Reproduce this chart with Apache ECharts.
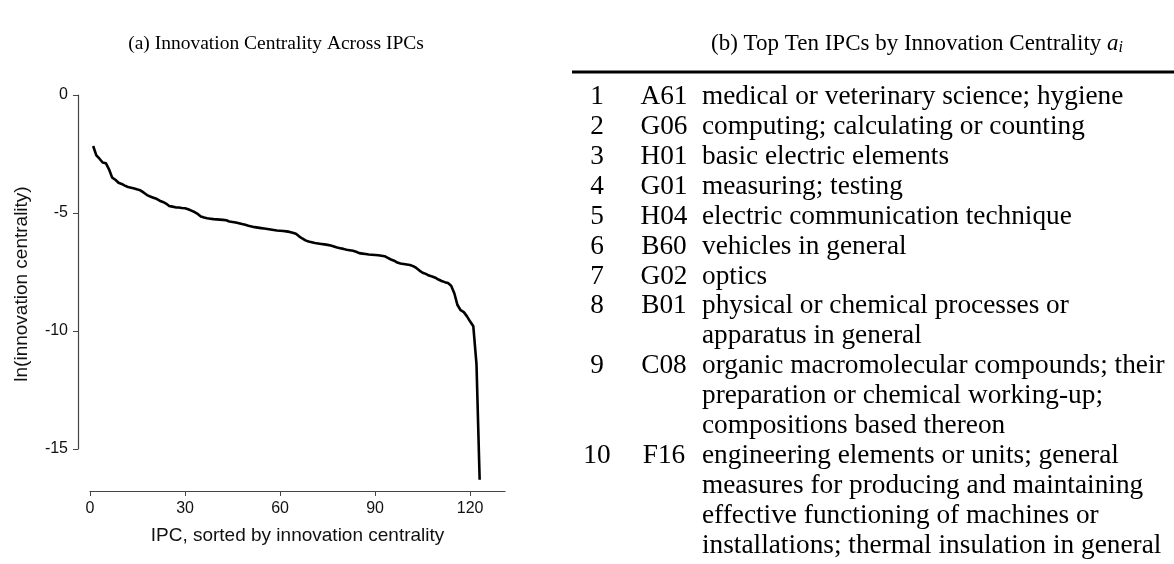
<!DOCTYPE html>
<html><head><meta charset="utf-8">
<script src="https://cdn.jsdelivr.net/npm/echarts@6/dist/echarts.min.js"></script>
<style>html,body{margin:0;padding:0;background:#fff}#c{width:1174px;height:564px}</style>
</head><body><div id="c"></div>
<script>
// ---- data ----
const ranks = ['1','2','3','4','5','6','7','8','9','10'];
const codes = ['A61','G06','H01','G01','H04','B60','G02','B01','C08','F16'];
const descriptions = [
  ['medical or veterinary science; hygiene'],
  ['computing; calculating or counting'],
  ['basic electric elements'],
  ['measuring; testing'],
  ['electric communication technique'],
  ['vehicles in general'],
  ['optics'],
  ['physical or chemical processes or', 'apparatus in general'],
  ['organic macromolecular compounds; their', 'preparation or chemical working-up;', 'compositions based thereon'],
  ['engineering elements or units; general', 'measures for producing and maintaining', 'effective functioning of machines or', 'installations; thermal insulation in general']
];
const xTicks = [0, 30, 60, 90, 120];
// ln(innovation centrality) of IPCs sorted by rank 1..123
const centrality = [
  -2.16,-2.56,-2.70,-2.86,-2.89,-3.15,-3.50,-3.59,-3.72,-3.77,
  -3.84,-3.90,-3.93,-3.96,-4.00,-4.05,-4.14,-4.24,-4.30,-4.35,
  -4.40,-4.48,-4.53,-4.60,-4.70,-4.73,-4.76,-4.77,-4.79,-4.80,
  -4.84,-4.90,-4.96,-5.04,-5.15,-5.19,-5.22,-5.24,-5.26,-5.27,
  -5.28,-5.29,-5.31,-5.36,-5.38,-5.40,-5.43,-5.47,-5.50,-5.54,
  -5.57,-5.60,-5.62,-5.64,-5.66,-5.68,-5.70,-5.72,-5.74,-5.75,
  -5.76,-5.78,-5.80,-5.84,-5.88,-5.99,-6.08,-6.16,-6.21,-6.24,
  -6.27,-6.29,-6.31,-6.33,-6.35,-6.38,-6.42,-6.46,-6.49,-6.52,
  -6.56,-6.58,-6.60,-6.64,-6.70,-6.72,-6.74,-6.76,-6.77,-6.78,
  -6.79,-6.81,-6.83,-6.90,-6.97,-7.02,-7.10,-7.14,-7.16,-7.18,
  -7.20,-7.25,-7.33,-7.44,-7.53,-7.58,-7.65,-7.69,-7.74,-7.82,
  -7.88,-7.93,-7.97,-8.08,-8.40,-8.90,-9.12,-9.20,-9.38,-9.60,
  -9.80,-11.40,-16.30
];

// ---- chart ----
const chart = echarts.init(document.getElementById('c'), null, {renderer: 'canvas'});
const sans = 'Liberation Sans, Arial, sans-serif';
const serif = 'Liberation Serif, Times New Roman, serif';

const tableFont = 27.3;
const lineH = 29.9;
const tableTop = 97;
const graphics = [];
graphics.push({type: 'line', shape: {x1: 572, y1: 72, x2: 1174, y2: 72}, style: {stroke: '#000', lineWidth: 3}});
let line = 0;
ranks.forEach((r, i) => {
  const y = tableTop + line * lineH;
  graphics.push({type: 'text', x: 597, y: y, style: {text: r, font: tableFont + 'px ' + serif, fill: '#000', textAlign: 'center', textVerticalAlign: 'middle'}});
  graphics.push({type: 'text', x: 664, y: y, style: {text: codes[i], font: tableFont + 'px ' + serif, fill: '#000', textAlign: 'center', textVerticalAlign: 'middle'}});
  descriptions[i].forEach((d, k) => {
    graphics.push({type: 'text', x: 702, y: tableTop + (line + k) * lineH, style: {text: d, font: tableFont + 'px ' + serif, fill: '#000', textAlign: 'left', textVerticalAlign: 'middle'}});
  });
  line += descriptions[i].length;
});

chart.setOption({
  animation: false,
  backgroundColor: '#fff',
  title: [
    {text: '(a) Innovation Centrality Across IPCs', left: 271, top: 29, textAlign: 'center',
     textStyle: {fontFamily: serif, fontWeight: 'normal', fontSize: 19.5, color: '#000'}},
    {text: '{n|(b) Top Ten IPCs by Innovation Centrality }{a|a}{s|i}', left: 912, top: 26, textAlign: 'center',
     textStyle: {fontFamily: serif, fontWeight: 'normal', fontSize: 23, color: '#000',
       rich: {
         n: {fontFamily: serif, fontSize: 23, color: '#000'},
         a: {fontFamily: serif, fontStyle: 'italic', fontSize: 23, color: '#000'},
         s: {fontFamily: serif, fontStyle: 'italic', fontSize: 16, color: '#000', padding: [9, 0, 0, 0]}
       }}}
  ],
  grid: {left: 90, right: 1174 - 505, top: 95, bottom: 564 - 449, containLabel: false},
  xAxis: {
    type: 'value', min: 0, max: 131, position: 'bottom', offset: 42,
    axisLine: {show: true, onZero: false, lineStyle: {color: '#444', width: 1.2}},
    axisTick: {show: true, length: 5, customValues: xTicks, lineStyle: {color: '#444'}},
    axisLabel: {customValues: xTicks, fontSize: 16, fontFamily: sans, color: '#111', margin: 10},
    splitLine: {show: false},
    name: 'IPC, sorted by innovation centrality', nameLocation: 'middle', nameGap: 35,
    nameTextStyle: {fontSize: 19, fontFamily: sans, color: '#111'}
  },
  yAxis: {
    type: 'value', min: -15, max: 0, interval: 5, offset: 12,
    axisLine: {show: true, onZero: false, lineStyle: {color: '#444', width: 1.2}},
    axisTick: {show: true, length: 5, lineStyle: {color: '#444'}},
    axisLabel: {fontSize: 16, fontFamily: sans, color: '#111', margin: 10},
    splitLine: {show: false},
    name: 'ln(innovation centrality)', nameLocation: 'middle', nameGap: 47, nameRotate: 90,
    nameTextStyle: {fontSize: 19, fontFamily: sans, color: '#111', padding: [0, 24, 0, 0]}
  },
  series: [{
    type: 'line', data: centrality.map((v, i) => [i + 1, v]),
    showSymbol: false, clip: false, silent: true,
    lineStyle: {color: '#000', width: 2.6, join: 'round'}
  }],
  graphic: graphics
});
</script></body></html>
